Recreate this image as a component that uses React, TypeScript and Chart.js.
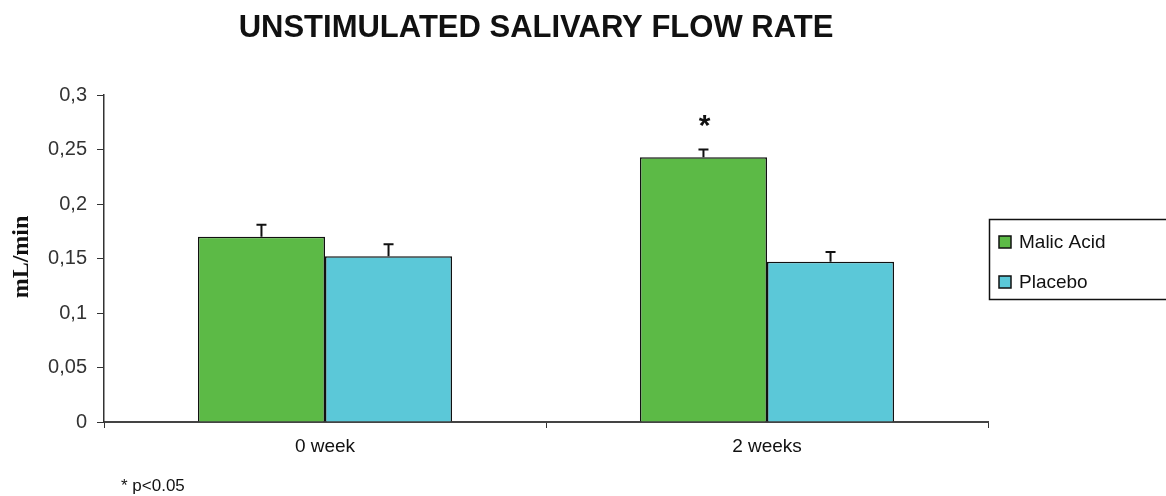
import React, { useEffect, useRef } from "react";
import { Chart, registerables } from "chart.js";

Chart.register(...registerables);

const categories = ["0 week", "2 weeks"];
const malicAcid = [0.17, 0.243];
const malicAcidErr = [0.011, 0.007];
const placebo = [0.152, 0.147];
const placeboErr = [0.011, 0.009];
const significant = [false, true];
const yTickLabels = ["0", "0,05", "0,1", "0,15", "0,2", "0,25", "0,3"];

const errors = [malicAcidErr, placeboErr];
const SANS = "'Liberation Sans', Arial, sans-serif";

const errorBarPlugin = {
  id: "errorBars",
  afterDatasetsDraw(chart: any) {
    const ctx = chart.ctx;
    const y = chart.scales.y;
    ctx.save();
    ctx.strokeStyle = "#111";
    ctx.lineWidth = 2;
    chart.data.datasets.forEach((ds: any, di: number) => {
      const meta = chart.getDatasetMeta(di);
      meta.data.forEach((bar: any, i: number) => {
        const v = ds.data[i];
        const top = y.getPixelForValue(v + errors[di][i]);
        const base = y.getPixelForValue(v);
        ctx.beginPath();
        ctx.moveTo(bar.x, base);
        ctx.lineTo(bar.x, top);
        ctx.moveTo(bar.x - 5, top);
        ctx.lineTo(bar.x + 5, top);
        ctx.stroke();
        if (di === 0 && significant[i]) {
          ctx.fillStyle = "#111";
          ctx.font = "bold 30px " + SANS;
          ctx.textAlign = "center";
          ctx.textBaseline = "middle";
          ctx.fillText("*", bar.x + 1, top - 23);
        }
      });
    });
    ctx.restore();
  },
};

const decorPlugin = {
  id: "decor",
  afterDraw(chart: any) {
    const ctx = chart.ctx;
    const area = chart.chartArea;
    ctx.save();
    // title
    ctx.fillStyle = "#111";
    ctx.font = "bold 31px " + SANS;
    ctx.textAlign = "center";
    ctx.textBaseline = "middle";
    ctx.fillText("UNSTIMULATED SALIVARY FLOW RATE", 536, 28);
    // y-axis title
    ctx.save();
    ctx.translate(22, 257);
    ctx.rotate(-Math.PI / 2);
    ctx.font = "bold 24px 'Liberation Serif', 'Times New Roman', serif";
    ctx.fillText("mL/min", 0, 0);
    ctx.restore();
    // note
    ctx.font = "17px " + SANS;
    ctx.textAlign = "left";
    ctx.fillText("* p<0.05", 121, 486);
    // legend
    const lx = area.right + 1;
    const ly = 219;
    ctx.strokeStyle = "#111";
    ctx.lineWidth = 1.5;
    ctx.strokeRect(lx + 0.5, ly + 0.5, 300, 80);
    chart.data.datasets.forEach((ds: any, i: number) => {
      const cy = 242 + i * 40;
      ctx.fillStyle = ds.backgroundColor;
      ctx.fillRect(lx + 10, cy - 6, 12, 12);
      ctx.lineWidth = 1.5;
      ctx.strokeRect(lx + 10, cy - 6, 12, 12);
      ctx.fillStyle = "#111";
      ctx.font = "19px " + SANS;
      ctx.textBaseline = "middle";
      ctx.fillText(ds.label, lx + 30, cy + 1);
    });
    ctx.restore();
  },
};

export default function App() {
  const ref = useRef<HTMLCanvasElement>(null);
  useEffect(() => {
    if (!ref.current) return;
    const chart = new Chart(ref.current, {
      type: "bar",
      data: {
        labels: categories,
        datasets: [
          {
            label: "Malic Acid",
            data: malicAcid,
            backgroundColor: "#5cba46",
            borderColor: "#111",
            borderWidth: 1.5,
            categoryPercentage: 0.575,
            barPercentage: 1,
          },
          {
            label: "Placebo",
            data: placebo,
            backgroundColor: "#5bc8d8",
            borderColor: "#111",
            borderWidth: 1.5,
            categoryPercentage: 0.575,
            barPercentage: 1,
          },
        ],
      },
      options: {
        animation: false,
        responsive: false,
        maintainAspectRatio: false,
        layout: { padding: { top: 95, right: 178, left: 0, bottom: 0 } },
        plugins: {
          legend: { display: false },
          tooltip: { enabled: false },
          title: { display: false },
        },
        scales: {
          x: {
            afterFit(scale: any) {
              scale.height = 74;
            },
            grid: {
              offset: true,
              drawOnChartArea: false,
              drawTicks: true,
              tickLength: 6,
              color: "#333",
            },
            border: { color: "#444", width: 2 },
            ticks: {
              color: "#111",
              font: { size: 19, family: SANS },
              padding: 7,
            },
          },
          y: {
            min: 0,
            max: 0.3,
            afterFit(scale: any) {
              scale.width = 104;
            },
            grid: {
              drawOnChartArea: false,
              drawTicks: true,
              tickLength: 7,
              color: "#333",
            },
            border: { color: "#333", width: 1.5 },
            ticks: {
              stepSize: 0.05,
              color: "#333",
              padding: 10,
              font: { size: 20, family: SANS },
              callback: (_v: any, i: number) => yTickLabels[i],
            },
          },
        },
      },
      plugins: [errorBarPlugin, decorPlugin],
    });
    return () => chart.destroy();
  }, []);
  return (
    <div style={{ position: "fixed", left: 0, top: 0, width: 1166, height: 496, background: "#fff" }}>
      <canvas ref={ref} width={1166} height={496} />
    </div>
  );
}
